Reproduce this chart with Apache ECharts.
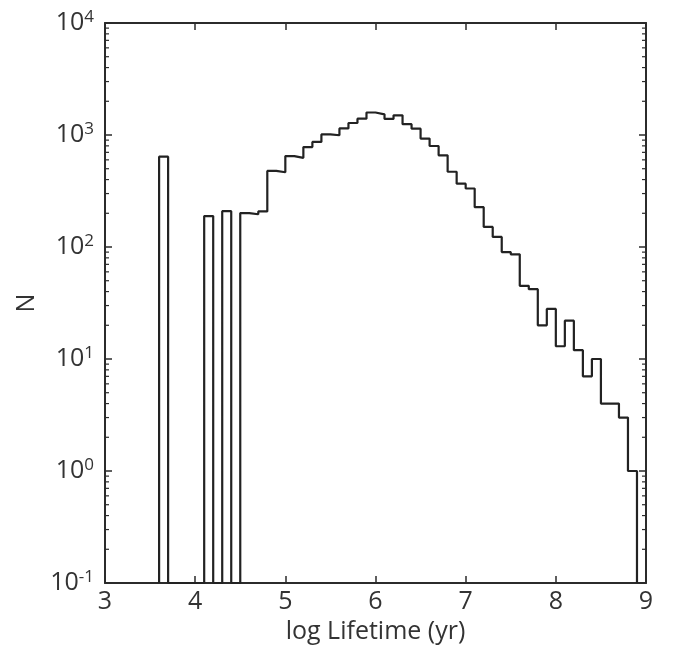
<!DOCTYPE html>
<html>
<head>
<meta charset="utf-8">
<script src="https://cdn.jsdelivr.net/npm/echarts@6/dist/echarts.min.js"></script>
<style>
html,body{margin:0;padding:0;background:#fff;}
#chart{width:673px;height:652px;}
</style>
</head>
<body>
<div id="chart"></div>
<script>
// ---- data ----
const binLeft = [3.6,3.7,3.8,3.9,4.0,4.1,4.2,4.3,4.4,4.5,4.6,4.7,4.8,4.9,5.0,5.1,5.2,5.3,5.4,5.5,5.6,5.7,5.8,5.9,6.0,6.1,6.2,6.3,6.4,6.5,6.6,6.7,6.8,6.9,7.0,7.1,7.2,7.3,7.4,7.5,7.6,7.7,7.8,7.9,8.0,8.1,8.2,8.3,8.4,8.5,8.6,8.7,8.8];
const counts  = [640,0,0,0,0,189,0,209,0,201,196,208,478,465,648,625,780,868,1012,995,1145,1280,1400,1588,1530,1392,1500,1248,1140,930,798,659,470,368,333,227,151,123,90,86,45,42,20,28,13,22,12,7,10,4,4,3,1];
const binWidth = 0.1;
const xTickValues = [3,4,5,6,7,8,9];
const yTickExponents = [-1,0,1,2,3,4];
const minorTickValues = [];
for (const e of [-1,0,1,2,3]) for (const m of [2,3,4,5,6,7,8,9]) minorTickValues.push(m * Math.pow(10, e));

const xMin = xTickValues[0], xMax = xTickValues[xTickValues.length-1];
const yMin = Math.pow(10, yTickExponents[0]), yMax = Math.pow(10, yTickExponents[yTickExponents.length-1]);

// step outline of histogram (zero bins drawn on the bottom of the axis)
const stepPts = [];
for (let i = 0; i < binLeft.length; i++) {
  const v = counts[i] > 0 ? counts[i] : yMin;
  const l = binLeft[i], r = +(binLeft[i] + binWidth).toFixed(3);
  if (i === 0) stepPts.push([l, yMin]);
  stepPts.push([l, v]);
  stepPts.push([r, v]);
}
stepPts.push([+(binLeft[binLeft.length-1] + binWidth).toFixed(3), yMin]);

const FONT = 'Open Sans';
const FS = 25;
const TXT = '#333';
const LINE = '#2b2b2b';

const chart = echarts.init(document.getElementById('chart'), null, {renderer: 'canvas'});
const baseTick = {show: true, inside: true, length: 7, lineStyle: {color: LINE, width: 1.5}};
const option = {
  animation: false,
  backgroundColor: '#fff',
  grid: {left: 105, right: 27, top: 23, bottom: 69, containLabel: false},
  xAxis: [{
    type: 'value', min: xMin, max: xMax, interval: 1, position: 'bottom',
    axisLine: {show: true, onZero: false, lineStyle: {color: LINE, width: 2}},
    axisTick: baseTick,
    splitLine: {show: false},
    axisLabel: {fontFamily: FONT, fontSize: FS, color: TXT, margin: 6},
    name: 'log Lifetime (yr)', nameLocation: 'middle', nameGap: 35,
    nameTextStyle: {fontFamily: FONT, fontSize: FS, color: TXT}
  }, {
    type: 'value', min: xMin, max: xMax, interval: 1, position: 'top',
    axisLine: {show: true, onZero: false, lineStyle: {color: LINE, width: 2}},
    axisTick: baseTick, axisLabel: {show: false}, splitLine: {show: false}
  }],
  yAxis: [{
    type: 'log', logBase: 10, min: yMin, max: yMax, position: 'left',
    axisLine: {show: true, onZero: false, lineStyle: {color: LINE, width: 2}},
    axisTick: baseTick,
    splitLine: {show: false},
    axisLabel: {
      margin: 11,
      formatter: function (v) {
        const e = Math.round(Math.log10(v));
        return '{b|10}{s|' + e + '}';
      },
      rich: {
        b: {fontFamily: FONT, fontSize: FS, color: TXT, lineHeight: 28},
        s: {fontFamily: FONT, fontSize: 17, color: TXT, verticalAlign: 'top', lineHeight: 22}
      }
    },
    name: 'N', nameLocation: 'middle', nameGap: 64, nameRotate: 90,
    nameTextStyle: {fontFamily: FONT, fontSize: FS, color: TXT}
  }, {
    type: 'log', logBase: 10, min: yMin, max: yMax, position: 'right',
    axisLine: {show: true, onZero: false, lineStyle: {color: LINE, width: 2}},
    axisTick: baseTick, axisLabel: {show: false}, splitLine: {show: false}
  }],
  series: [{
    type: 'custom',
    xAxisIndex: 0, yAxisIndex: 0,
    data: minorTickValues,
    clip: false,
    silent: true,
    renderItem: function (params, api) {
      const v = api.value(0);
      const pl = api.coord([xMin, v]);
      const pr = api.coord([xMax, v]);
      return {
        type: 'group',
        children: [
          {type: 'line', shape: {x1: pl[0], y1: pl[1], x2: pl[0] + 4, y2: pl[1]}, style: {stroke: LINE, lineWidth: 1.2}},
          {type: 'line', shape: {x1: pr[0], y1: pr[1], x2: pr[0] - 4, y2: pr[1]}, style: {stroke: LINE, lineWidth: 1.2}}
        ]
      };
    },
    encode: {y: 0}
  }, {
    type: 'line',
    xAxisIndex: 0, yAxisIndex: 0,
    data: stepPts,
    showSymbol: false, symbol: 'none',
    lineStyle: {color: '#222', width: 2.2},
    silent: true
  }]
};
chart.setOption(option);
</script>
</body>
</html>
